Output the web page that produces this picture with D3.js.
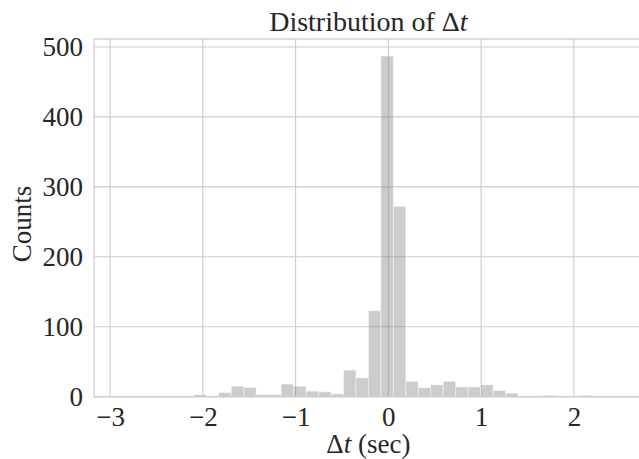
<!DOCTYPE html>
<html>
<head>
<meta charset="utf-8">
<script src="https://cdn.jsdelivr.net/npm/d3@7"></script>
<style>
  html, body { margin: 0; padding: 0; background: #ffffff; }
  svg { display: block; }
  text { font-family: "Liberation Serif", "DejaVu Serif", serif; fill: #262626; }
</style>
</head>
<body>
<svg id="chart" width="639" height="459"></svg>
<script>
// ---- data ----
const dataMin = -2.903;          // left edge of first bin (sec)
const dataMax = 2.473;           // right edge of last bin (sec)
const counts = [1, 0, 0, 0, 0, 0, 3, 1, 6, 15,
                13, 3, 3, 18, 15, 8, 7, 4, 38, 27,
                123, 487, 272, 22, 13, 17, 22, 14, 14, 17,
                9, 5, 0, 1, 2, 0, 0, 2, 1, 1];
const xTicks = [-3, -2, -1, 0, 1, 2];
const yTicks = [0, 100, 200, 300, 400, 500];
const titleText = "Distribution of ";
const xLabelText = " (sec)";
const yLabelText = "Counts";

// ---- layout ----
const W = 639, H = 459;
const plot = { left: 94.1, right: 642.7, top: 39, bottom: 396.7 };

const nBins = counts.length;
const binW = (dataMax - dataMin) / nBins;
const bins = counts.map((c, i) => ({ x0: dataMin + i * binW, x1: dataMin + (i + 1) * binW, count: c }));

const xPad = (dataMax - dataMin) * 0.05;
const x = d3.scaleLinear().domain([dataMin - xPad, dataMax + xPad]).range([plot.left, plot.right]);
const y = d3.scaleLinear().domain([0, d3.max(counts) * 1.05]).range([plot.bottom, plot.top]);

const svg = d3.select("#chart");
const gridColor = "#cccccc";

// grid
const g = svg.append("g");
g.selectAll("line.vg").data(xTicks).join("line")
  .attr("x1", d => x(d)).attr("x2", d => x(d))
  .attr("y1", plot.top).attr("y2", plot.bottom)
  .attr("stroke", gridColor).attr("stroke-width", 1.1);
g.selectAll("line.hg").data(yTicks).join("line")
  .attr("x1", plot.left).attr("x2", plot.right)
  .attr("y1", d => y(d)).attr("y2", d => y(d))
  .attr("stroke", gridColor).attr("stroke-width", 1.1);

// bars
svg.append("g").selectAll("rect").data(bins.filter(b => b.count > 0)).join("rect")
  .attr("x", d => x(d.x0))
  .attr("width", d => x(d.x1) - x(d.x0))
  .attr("y", d => y(d.count))
  .attr("height", d => y(0) - y(d.count))
  .attr("fill", "#808080")
  .attr("fill-opacity", 0.4)
  .attr("stroke", "#ffffff")
  .attr("stroke-opacity", 0.45)
  .attr("stroke-width", 1);

// frame
svg.append("rect")
  .attr("x", plot.left).attr("y", plot.top)
  .attr("width", plot.right - plot.left).attr("height", plot.bottom - plot.top)
  .attr("fill", "none").attr("stroke", gridColor).attr("stroke-width", 1.25);

// axes (labels only, no tick marks)
const xAxis = d3.axisBottom(x).tickValues(xTicks).tickSize(0).tickPadding(10)
  .tickFormat(d => d < 0 ? "\u2212" + Math.abs(d) : String(d));
const xa = svg.append("g").attr("transform", `translate(0,${plot.bottom})`).call(xAxis);
xa.select(".domain").remove();
xa.selectAll("text").attr("font-size", 27).style("font-family", "'Liberation Serif', serif").attr("fill", "#262626");

const yAxis = d3.axisLeft(y).tickValues(yTicks).tickSize(0).tickPadding(11);
const ya = svg.append("g").attr("transform", `translate(${plot.left},0)`).call(yAxis);
ya.select(".domain").remove();
ya.selectAll("text").attr("font-size", 27).style("font-family", "'Liberation Serif', serif").attr("fill", "#262626");

// title
const t = svg.append("text").attr("x", (plot.left + plot.right) / 2).attr("y", 31)
  .attr("text-anchor", "middle").attr("font-size", 28);
t.append("tspan").text(titleText);
t.append("tspan").text("\u0394");
t.append("tspan").attr("font-style", "italic").text("t");

// x label
const xl = svg.append("text").attr("x", (plot.left + plot.right) / 2).attr("y", 453)
  .attr("text-anchor", "middle").attr("font-size", 27);
xl.append("tspan").text("\u0394");
xl.append("tspan").attr("font-style", "italic").text("t");
xl.append("tspan").text(xLabelText);

// y label
svg.append("text").attr("transform", `translate(31,224) rotate(-90)`)
  .attr("text-anchor", "middle").attr("font-size", 27).text(yLabelText);
</script>
</body>
</html>
